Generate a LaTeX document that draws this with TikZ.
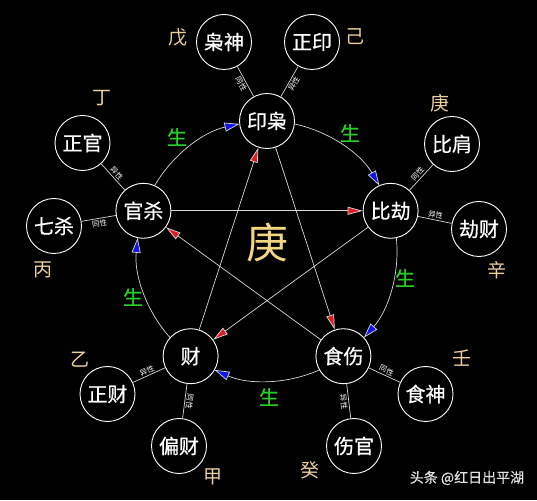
\documentclass[tikz,border=0pt]{standalone}
\usepackage{fontspec}
\newfontfamily\cjk{Noto Sans CJK SC}
\newfontfamily\cjkb[FakeBold=0.6]{Noto Sans CJK SC}
\usetikzlibrary{arrows.meta}
\definecolor{stemc}{RGB}{234,208,160}
\definecolor{centerc}{RGB}{242,214,130}
\definecolor{shengc}{RGB}{40,205,40}
\definecolor{arcc}{RGB}{215,215,215}
\definecolor{arrowblue}{RGB}{20,20,230}
\definecolor{arrowred}{RGB}{220,30,40}
\definecolor{markc}{RGB}{225,225,225}
\begin{document}
\begin{tikzpicture}[x=1pt,y=1pt,
  circ/.style={circle, draw=white, line width=0.9pt, fill=black, minimum size=55pt, inner sep=0pt, text=white, font=\cjkb\fontsize{20}{24}\selectfont},
  stem/.style={text=stemc, font=\cjk\fontsize{19}{22}\selectfont},
  sheng/.style={text=shengc, font=\cjkb\fontsize{20}{24}\selectfont},
  link/.style={draw=arcc, line width=0.7pt},
  tag/.style={midway, sloped, text=white, font=\cjk\fontsize{7.5}{8}\selectfont, inner sep=1.2pt},
  gen/.style={draw=arcc, line width=0.7pt, -{Triangle[length=15pt,width=9pt,fill=arrowblue]}},
  ctrl/.style={draw=arcc, line width=0.7pt, -{Triangle[length=15pt,width=8pt,fill=arrowred]}},
]
\fill[black] (0,0) rectangle (537,500);
\useasboundingbox (0,0) rectangle (537,500);
\coordinate (O) at (267,249);

% pentagon nodes
\node[circ] (yin)  at (267,379)     {印枭};
\node[circ] (bi)   at (390.6,289.2) {比劫};
\node[circ] (shi)  at (343.4,143.8) {食伤};
\node[circ] (cai)  at (190.6,143.8) {财};
\node[circ] (guan) at (143.4,289.2) {官杀};

% outer nodes
\node[circ] (xiao) at (224,458)   {枭神};
\node[circ] (zy)   at (312,458)   {正印};
\node[circ] (zg)   at (82.5,357)  {正官};
\node[circ] (qs)   at (54,274)    {七杀};
\node[circ] (bj)   at (452,356)   {比肩};
\node[circ] (jc)   at (479,271)   {劫财};
\node[circ] (zc)   at (107.5,106) {正财};
\node[circ] (pc)   at (179,54)    {偏财};
\node[circ] (ss)   at (425.5,106) {食神};
\node[circ] (sg)   at (354,54)    {伤官};

% generating cycle arcs
\draw[gen] (O) ++(77.8:130) arc[start angle=77.8, end angle=30.2, radius=130];
\draw[gen] (O) ++(5.8:130) arc[start angle=5.8, end angle=-41.8, radius=130];
\draw[gen] (O) ++(-66.2:130) arc[start angle=-66.2, end angle=-113.8, radius=130];
\draw[gen] (O) ++(-138.2:130) arc[start angle=-138.2, end angle=-185.8, radius=130];
\draw[gen] (O) ++(149.8:130) arc[start angle=149.8, end angle=102.2, radius=130];

% controlling star
\draw[ctrl] (cai) -- (yin);
\draw[ctrl] (yin) -- (shi);
\draw[ctrl] (shi) -- (guan);
\draw[ctrl] (guan) -- (bi);
\draw[ctrl] (bi) -- (cai);

% outer links
\draw[link] (xiao) -- node[tag, below] {同性} (yin);
\draw[link] (yin) -- node[tag, below] {异性} (zy);
\draw[link] (zg) -- node[tag, above] {异性} (guan);
\draw[link] (qs) -- node[tag, below] {同性} (guan);
\draw[link] (bi) -- node[tag, above] {同性} (bj);
\draw[link] (bi) -- node[tag, above] {异性} (jc);
\draw[link] (zc) -- node[tag, above] {异性} (cai);
\draw[link] (cai) -- node[tag, above, allow upside down] {同性} (pc);
\draw[link] (shi) -- node[tag, below] {异性} (sg);
\draw[link] (shi) -- node[tag, above] {同性} (ss);

% stems
\node[stem] (s1) at (178,463) {戊};
\node[stem] (s2) at (355,463) {己};
\node[stem] (s3) at (102,402) {丁};
\node[stem] (s4) at (43,230)  {丙};
\node[stem] (s5) at (440,397) {庚};
\node[stem] (s6) at (497,230) {辛};
\node[stem] (s7) at (80,140)  {乙};
\node[stem] (s8) at (213,23)  {甲};
\node[stem] (s9) at (462,142) {壬};
\node[stem] (s10) at (310,30) {癸};

% sheng labels
\node[sheng] (g1) at (177,363) {生};
\node[sheng] (g2) at (350,367) {生};
\node[sheng] (g3) at (405,222) {生};
\node[sheng] (g4) at (133,203) {生};
\node[sheng] (g5) at (269,103) {生};

% centre
\node[text=centerc, font=\cjk\fontsize{42}{46}\selectfont] (ctr) at (267,257) {庚};

% watermark
\node[text=markc, font=\cjkb\fontsize{14}{16}\selectfont, inner sep=0pt] (wm) at (467,22) {头条 @红日出平湖};
\end{tikzpicture}
\end{document}
